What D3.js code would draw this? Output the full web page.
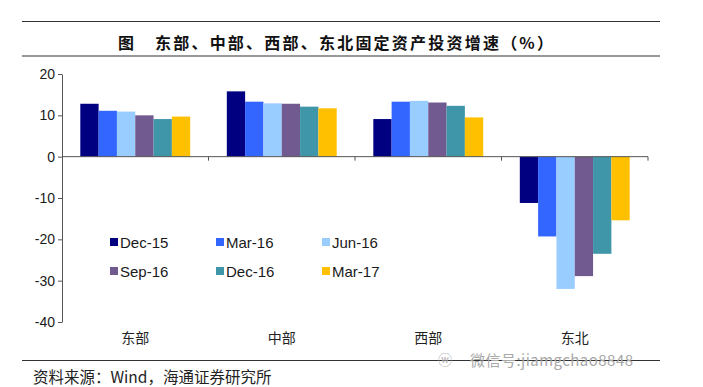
<!DOCTYPE html>
<html>
<head>
<meta charset="utf-8">
<script src="https://cdn.jsdelivr.net/npm/d3@7"></script>
<style>
  body { margin: 0; background: #fff; }
</style>
</head>
<body>
<div id="chart"></div>
<script>
// regions and reporting dates
const categories = ["东部", "中部", "西部", "东北"];
const seriesNames = ["Dec-15", "Mar-16", "Jun-16", "Sep-16", "Dec-16", "Mar-17"];
const seriesColors = ["#000080", "#3366ff", "#99ccff", "#705a8f", "#3f96a8", "#ffc000"];

// growth rate (%) per series, one value per region
const dec15 = [12.8, 15.8, 9.1, -11.2];
const mar16 = [11.1, 13.3, 13.3, -19.3];
const jun16 = [10.9, 12.9, 13.5, -32.0];
const sep16 = [10.0, 12.8, 13.1, -28.9];
const dec16 = [9.1, 12.1, 12.3, -23.5];
const mar17 = [9.7, 11.7, 9.5, -15.4];
const seriesValues = [dec15, mar16, jun16, sep16, dec16, mar17];

const yTicks = [-40, -30, -20, -10, 0, 10, 20];

const titleText = "东部、中部、西部、东北固定资产投资增速（%）";
const sourceText = "资料来源：Wind，海通证券研究所";

class GroupedBars {
  constructor(_config) {
    this.config = {
      parentElement: "#chart",
      containerWidth: 703,
      containerHeight: 387,
      plot: { left: 62, right: 648, top: 74, bottom: 322 },
    };
    this.initVis();
  }
  initVis() {
    let vis = this;
    vis.svg = d3
      .select(vis.config.parentElement)
      .append("svg")
      .attr("width", vis.config.containerWidth)
      .attr("height", vis.config.containerHeight);

    vis.x0 = d3
      .scaleBand()
      .domain(categories)
      .range([vis.config.plot.left, vis.config.plot.right])
      .padding(0);
    vis.x1 = d3
      .scaleBand()
      .domain(seriesNames)
      .range([0, vis.x0.bandwidth()])
      .paddingInner(0)
      .paddingOuter(1);
    vis.y = d3
      .scaleLinear()
      .domain([-40, 20])
      .range([vis.config.plot.bottom, vis.config.plot.top]);

    vis.drawFrame();
    vis.updateVis();
  }
  drawFrame() {
    let vis = this;
    // rules above and below the title, and above the source line
    [21.5, 56].forEach((yy) => {
      vis.svg.append("line")
        .attr("x1", 22).attr("x2", 660)
        .attr("y1", yy).attr("y2", yy)
        .attr("stroke", "#333").attr("stroke-width", 1.2);
    });
    vis.svg.append("line")
      .attr("x1", 22).attr("x2", 660)
      .attr("y1", 360.5).attr("y2", 360.5)
      .attr("stroke", "#333").attr("stroke-width", 1.2);

    vis.svg.append("text")
      .attr("x", 118).attr("y", 42)
      .attr("dominant-baseline", "central")
      .style("font-family", "'Noto Sans CJK SC'")
      .style("font-weight", "bold")
      .style("font-size", "16px")
      .attr("fill", "#111")
      .text("图");
    vis.svg.append("text")
      .attr("x", 155).attr("y", 42)
      .attr("dominant-baseline", "central")
      .attr("textLength", 398)
      .style("font-family", "'Noto Sans CJK SC'")
      .style("font-weight", "bold")
      .style("font-size", "16px")
      .attr("fill", "#111")
      .text(titleText);

    vis.svg.append("text")
      .attr("x", 33).attr("y", 376)
      .attr("dominant-baseline", "central")
      .style("font-family", "'Noto Sans CJK SC'")
      .style("font-size", "15.5px")
      .attr("fill", "#222")
      .text(sourceText);

    // watermark
    vis.svg.append("text")
      .attr("x", 438).attr("y", 359)
      .attr("dominant-baseline", "central")
      .style("font-family", "'Noto Sans CJK SC'")
      .style("font-size", "14px")
      .attr("fill", "#b0b0b0")
      .text("ⓦ");
    vis.svg.append("text")
      .attr("x", 470).attr("y", 359)
      .attr("dominant-baseline", "central")
      .attr("textLength", 163)
      .style("font-family", "'Noto Sans CJK SC'")
      .style("font-size", "15px")
      .attr("fill", "#a8a8a8")
      .text("微信号:jiamgchao8848");
  }
  updateVis() {
    let vis = this;
    const p = vis.config.plot;

    // bars
    const groups = vis.svg
      .selectAll(".grp")
      .data(categories)
      .enter()
      .append("g")
      .attr("class", "grp")
      .attr("transform", (d) => `translate(${vis.x0(d)},0)`);

    groups
      .selectAll("rect")
      .data((c, ci) =>
        seriesNames.map((s, si) => ({ s: s, i: si, v: seriesValues[si][ci] }))
      )
      .enter()
      .append("rect")
      .attr("x", (d) => vis.x1(d.s))
      .attr("width", vis.x1.bandwidth())
      .attr("y", (d) => vis.y(Math.max(0, d.v)))
      .attr("height", (d) => Math.abs(vis.y(d.v) - vis.y(0)))
      .attr("fill", (d) => seriesColors[d.i]);

    // y axis (plain hyphen for negatives, like the original)
    const yAxis = vis.svg
      .append("g")
      .attr("transform", `translate(${p.left},0)`)
      .call(
        d3.axisLeft(vis.y)
          .tickValues(yTicks)
          .tickFormat((d) => String(d))
          .tickSize(4)
          .tickSizeOuter(0)
          .tickPadding(3)
      );
    yAxis.select(".domain").attr("stroke", "#555");
    yAxis.selectAll(".tick line").attr("stroke", "#555");
    yAxis.selectAll("text")
      .style("font-family", "'Liberation Sans', Arial")
      .style("font-size", "14px")
      .attr("fill", "#1a1a1a");

    // x axis at zero with ticks at category boundaries
    const x0 = vis.y(0);
    vis.svg.append("line")
      .attr("x1", p.left).attr("x2", p.right)
      .attr("y1", x0).attr("y2", x0)
      .attr("stroke", "#555");
    vis.svg
      .selectAll(".xtick")
      .data(categories)
      .enter()
      .append("line")
      .attr("x1", (d) => vis.x0(d) + vis.x0.bandwidth())
      .attr("x2", (d) => vis.x0(d) + vis.x0.bandwidth())
      .attr("y1", x0).attr("y2", x0 + 4)
      .attr("stroke", "#555");

    // category labels below the plot
    vis.svg
      .selectAll(".cat")
      .data(categories)
      .enter()
      .append("text")
      .attr("x", (d) => vis.x0(d) + vis.x0.bandwidth() / 2)
      .attr("y", 337)
      .attr("text-anchor", "middle")
      .attr("dominant-baseline", "central")
      .style("font-family", "'Noto Sans CJK SC'")
      .style("font-size", "14px")
      .attr("fill", "#222")
      .text((d) => d);

    // legend, 2 rows x 3 columns
    const legend = vis.svg
      .selectAll(".leg")
      .data(seriesNames)
      .enter()
      .append("g")
      .attr("transform", (d, i) => `translate(${110 + (i % 3) * 106},${242 + Math.floor(i / 3) * 29})`);
    legend.append("rect")
      .attr("x", 0).attr("y", -4)
      .attr("width", 8).attr("height", 8)
      .attr("fill", (d, i) => seriesColors[i]);
    legend.append("text")
      .attr("x", 10).attr("y", 0)
      .attr("dominant-baseline", "central")
      .style("font-family", "'Liberation Sans', Arial")
      .style("font-size", "15px")
      .attr("fill", "#1a1a1a")
      .text((d) => d);
  }
}

new GroupedBars();
</script>
</body>
</html>
